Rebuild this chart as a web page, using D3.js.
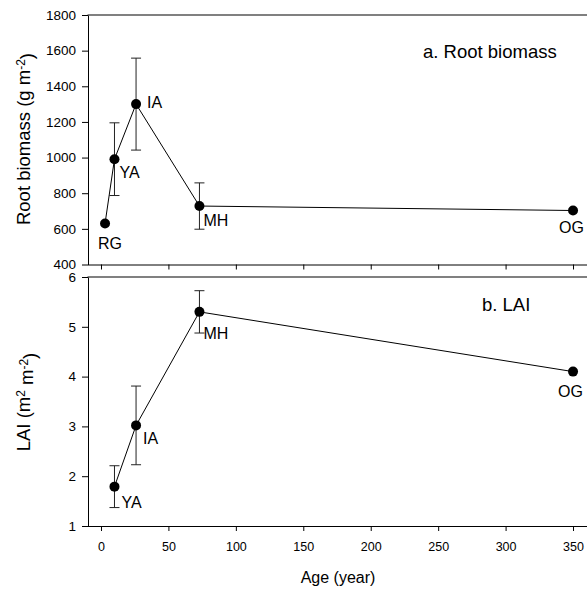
<!DOCTYPE html>
<html>
<head>
<meta charset="utf-8">
<script src="https://cdn.jsdelivr.net/npm/d3@7"></script>
<style>
  body { margin: 0; background: #fff; }
  svg { font-family: 'Liberation Sans', Arial, sans-serif; }
</style>
</head>
<body>
<svg id="chart" width="587" height="595"></svg>
<script>
// root biomass, panel a
const ROOT_SITES = ['RG', 'YA', 'IA', 'MH', 'OG']
const ROOT_AGE = [3, 10, 26, 73, 350]
const ROOT_MEAN = [630, 991, 1300, 728, 703]
const ROOT_SE = [null, 204, 258, 130, null]
const ROOT_TICKS = [400, 600, 800, 1000, 1200, 1400, 1600, 1800]

// LAI, panel b
const LAI_SITES = ['YA', 'IA', 'MH', 'OG']
const LAI_AGE = [10, 26, 73, 350]
const LAI_MEAN = [1.79, 3.02, 5.3, 4.1]
const LAI_SE = [0.42, 0.79, 0.425, null]
const LAI_TICKS = [1, 2, 3, 4, 5, 6]

const AGE_TICKS = [0, 50, 100, 150, 200, 250, 300, 350]

// label placement relative to the point (style only)
const ROOT_LABEL_OFFSET = [[-7, 25], [5, 19], [11, 4], [4, 20], [-14, 22]]
const LAI_LABEL_OFFSET = [[7, 21], [7, 19], [4, 27], [-15, 25]]

const FONT = "'Liberation Sans', Arial, sans-serif"
const svg = d3.select('#chart')

const X = d3.scaleLinear().domain([-10, 370]).range([87.5, 600])

const PANELS = [
  {
    sites: ROOT_SITES, age: ROOT_AGE, mean: ROOT_MEAN, se: ROOT_SE,
    ticks: ROOT_TICKS, domain: [400, 1800], range: [264.5, 15],
    offsets: ROOT_LABEL_OFFSET, title: 'a. Root biomass', titlePos: [423, 58],
    xLabels: false,
  },
  {
    sites: LAI_SITES, age: LAI_AGE, mean: LAI_MEAN, se: LAI_SE,
    ticks: LAI_TICKS, domain: [1, 6], range: [526, 277],
    offsets: LAI_LABEL_OFFSET, title: 'b. LAI', titlePos: [482, 311],
    xLabels: true,
  },
]

PANELS.forEach(p => {
  const Y = d3.scaleLinear().domain(p.domain).range(p.range)
  const g = svg.append('g')

  // grey frame on top
  g.append('line')
    .attr('x1', X.range()[0]).attr('x2', X.range()[1])
    .attr('y1', p.range[1]).attr('y2', p.range[1])
    .attr('stroke', '#808080').attr('stroke-width', 2)

  const yAxis = g.append('g')
    .attr('transform', `translate(${X.range()[0] + 0.5},0)`)
    .call(d3.axisLeft(Y).tickValues(p.ticks).tickFormat(d3.format('d'))
      .tickSize(6).tickPadding(6).tickSizeOuter(0))
  yAxis.select('.domain').attr('stroke', '#000')
  yAxis.selectAll('text').attr('font-size', 13.5).attr('fill', '#000')
    .attr('font-family', FONT)

  const xAxis = g.append('g')
    .attr('transform', `translate(0,${p.range[0]})`)
    .call(d3.axisBottom(X).tickValues(AGE_TICKS).tickFormat(d3.format('d'))
      .tickSize(5).tickPadding(11).tickSizeOuter(0))
  xAxis.selectAll('text').attr('font-size', 12.5).attr('fill', '#000')
    .attr('font-family', FONT)
  if (!p.xLabels) xAxis.selectAll('text').remove()

  const pts = p.age.map((a, i) => ({ a, m: p.mean[i], se: p.se[i], s: p.sites[i], off: p.offsets[i] }))

  // error bars
  const eb = g.selectAll('.eb').data(pts.filter(d => d.se != null)).join('g')
  eb.append('line')
    .attr('x1', d => X(d.a)).attr('x2', d => X(d.a))
    .attr('y1', d => Y(d.m - d.se)).attr('y2', d => Y(d.m + d.se))
    .attr('stroke', '#222').attr('stroke-width', 1)
  ;[-1, 1].forEach(sign => {
    eb.append('line')
      .attr('x1', d => X(d.a) - 5).attr('x2', d => X(d.a) + 5)
      .attr('y1', d => Y(d.m + sign * d.se)).attr('y2', d => Y(d.m + sign * d.se))
      .attr('stroke', '#222').attr('stroke-width', 1)
  })

  g.append('path')
    .datum(pts)
    .attr('d', d3.line().x(d => X(d.a)).y(d => Y(d.m)))
    .attr('fill', 'none').attr('stroke', '#000').attr('stroke-width', 1)

  g.selectAll('circle').data(pts).join('circle')
    .attr('cx', d => X(d.a)).attr('cy', d => Y(d.m)).attr('r', 5)
    .attr('fill', '#000')

  g.selectAll('.lbl').data(pts).join('text')
    .attr('x', d => X(d.a) + d.off[0]).attr('y', d => Y(d.m) + d.off[1])
    .attr('font-size', 16).attr('fill', '#000')
    .text(d => d.s)

  g.append('text')
    .attr('x', p.titlePos[0]).attr('y', p.titlePos[1])
    .attr('font-size', 18.5).attr('fill', '#000')
    .text(p.title)
})

// axis titles
const rootTitle = svg.append('text')
  .attr('transform', 'translate(30,139) rotate(-90)')
  .attr('text-anchor', 'middle').attr('font-size', 18.5)
rootTitle.append('tspan').text('Root biomass (g m')
rootTitle.append('tspan').attr('dy', '-0.45em').attr('font-size', 12).text('-2')
rootTitle.append('tspan').attr('dy', '0.45em').text(')')

const laiTitle = svg.append('text')
  .attr('transform', 'translate(30,402) rotate(-90)')
  .attr('text-anchor', 'middle').attr('font-size', 18.5)
laiTitle.append('tspan').text('LAI (m')
laiTitle.append('tspan').attr('dy', '-0.45em').attr('font-size', 12).text('2')
laiTitle.append('tspan').attr('dy', '0.45em').text(' m')
laiTitle.append('tspan').attr('dy', '-0.45em').attr('font-size', 12).text('-2')
laiTitle.append('tspan').attr('dy', '0.45em').text(')')

svg.append('text')
  .attr('x', 338).attr('y', 583)
  .attr('text-anchor', 'middle').attr('font-size', 16)
  .text('Age (year)')
</script>
</body>
</html>
